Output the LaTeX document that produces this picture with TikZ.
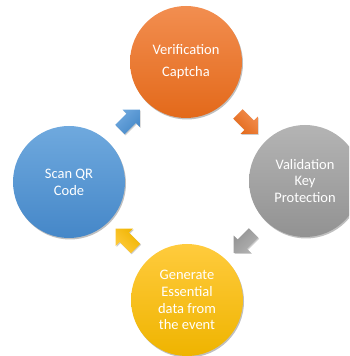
\documentclass[tikz,border=0pt]{standalone}
\usepackage{fontspec}
\setmainfont{Carlito}
\usetikzlibrary{shapes.arrows,shadows,calc}
\definecolor{orA}{HTML}{F28E50}\definecolor{orB}{HTML}{E3691A}
\definecolor{grA}{HTML}{B4B4B4}\definecolor{grB}{HTML}{929292}
\definecolor{blA}{HTML}{6FA9DE}\definecolor{blB}{HTML}{4587C8}
\definecolor{yeA}{HTML}{FFCB3D}\definecolor{yeB}{HTML}{EFB400}
\tikzset{
  stepcirc/.style={circle, minimum size=112pt, inner sep=0pt, align=center,
    text=white, font=\fontsize{14.5}{16.8}\selectfont,
    drop shadow={shadow xshift=1pt, shadow yshift=-1.5pt, opacity=0.25, fill=black}},
  blockarrow/.style={single arrow, minimum height=28pt, inner xsep=0pt, inner ysep=6.5pt,
    single arrow head extend=5.5pt,
    drop shadow={shadow xshift=0.8pt, shadow yshift=-1pt, opacity=0.2, fill=black}},
}
\begin{document}
\begin{tikzpicture}[x=1pt,y=1pt]
\useasboundingbox (0,0) rectangle (349,356);
\clip (0,0) rectangle (349,356);
\node[stepcirc, top color=orA, bottom color=orB] (ver) at (186,294) {Verification\\[5pt]Captcha};
\node[stepcirc, top color=grA, bottom color=grB] (val) at (305,175) {Validation\\Key\\Protection};
\node[stepcirc, top color=yeA, bottom color=yeB] (gen) at (187,56) {Generate\\Essential\\data from\\the event};
\node[stepcirc, top color=blA, bottom color=blB] (scan) at (69,174) {Scan QR\\Code};
\node[blockarrow, rotate=-45, top color=orA, bottom color=orB, shading angle=-45] (a1) at ($(ver)!0.5!(val)$) {};
\node[blockarrow, rotate=-135, top color=grA, bottom color=grB, shading angle=-135] (a2) at ($(val)!0.5!(gen)$) {};
\node[blockarrow, rotate=135, top color=yeA, bottom color=yeB, shading angle=135] (a3) at ($(gen)!0.5!(scan)$) {};
\node[blockarrow, rotate=45, top color=blA, bottom color=blB, shading angle=45] (a4) at ($(scan)!0.5!(ver)$) {};
\end{tikzpicture}
\end{document}
